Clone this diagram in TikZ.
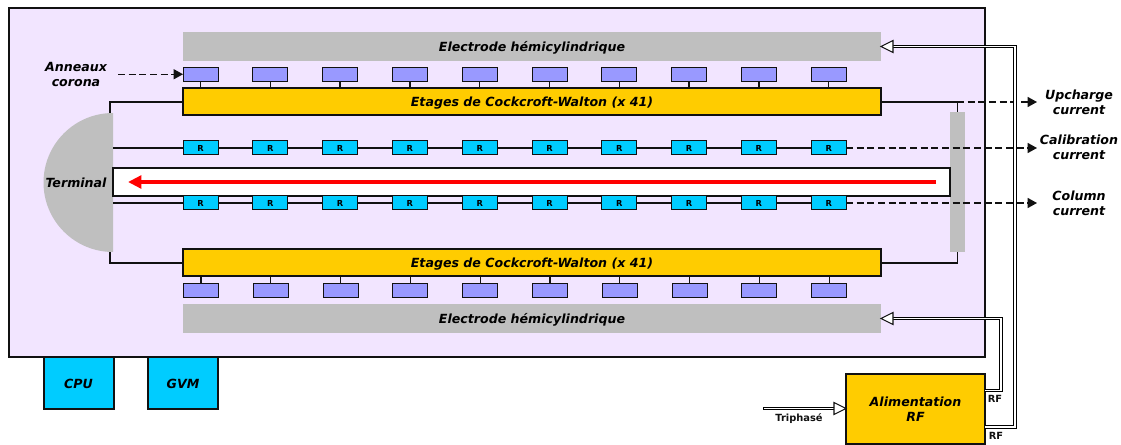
\documentclass[tikz,border=0pt]{standalone}
\usepackage{fontspec}
\setmainfont{DejaVu Sans}
\usetikzlibrary{arrows.meta}
\definecolor{bgpurple}{HTML}{F2E5FF}
\definecolor{ringblue}{HTML}{9999FF}
\definecolor{rcyan}{HTML}{00CCFF}
\definecolor{yell}{HTML}{FFCC00}
\definecolor{gris}{HTML}{BFBFBF}
\definecolor{ink}{HTML}{111111}
\tikzset{
  lab/.style={font=\fontsize{9.45}{11.5}\selectfont\bfseries\itshape,align=center,inner sep=0pt,text=black},
  smalllab/.style={font=\fontsize{7.4}{9}\selectfont\bfseries,inner sep=0pt,text=ink},
  rectbox/.style={inner sep=0pt,outer sep=0pt,rectangle},
  electrode/.style={rectbox,fill=gris,minimum width=523.5pt,minimum height=21.75pt,lab,text height=9pt,text depth=1.5pt},
  cw/.style={rectbox,fill=yell,draw=ink,line width=1.5pt,minimum width=523.5pt,minimum height=20.25pt,lab,text height=9pt,text depth=1.5pt},
  ring/.style={rectbox,fill=ringblue,draw=ink,line width=0.75pt,minimum width=26.25pt,minimum height=10.5pt},
  resist/.style={rectbox,fill=rcyan,draw=ink,line width=0.75pt,minimum width=26.25pt,minimum height=10.5pt,font=\fontsize{6.2}{7}\selectfont\bfseries},
  ctrl/.style={rectbox,fill=rcyan,draw=ink,line width=1.5pt,minimum width=52.5pt,minimum height=39pt,lab,text height=8pt,text depth=0.5pt},
  wire/.style={draw=ink,line width=1pt},
  dashwire/.style={draw=ink,line width=1pt,dash pattern=on 5.2pt off 2.8pt,-{Triangle[length=7pt,width=7.5pt,fill=ink]}},
  rfback/.style={draw=white,line width=1.6pt},
  rfedge/.style={draw=black,line width=0.65pt,line join=miter},
  openhead/.style={draw=ink,fill=white,line width=0.8pt,line join=miter},
}
\begin{document}
\begin{tikzpicture}[x=0.75pt,y=-0.75pt]
\useasboundingbox (0,0) rectangle (1121,445);
\node[rectbox,fill=bgpurple,draw=ink,line width=1pt,minimum width=732pt,minimum height=261.75pt] (frame) at (497,182.5) {};
\node[electrode] (etop) at (532,46.5) {Electrode hémicylindrique};
\node[electrode] (ebot) at (532,318.5) {Electrode hémicylindrique};
\fill[gris] (113,113) arc[start angle=-90,end angle=-270,radius=69.5] -- cycle;
\coordinate (termtop) at (110,113);
\coordinate (termbot) at (110,252);
\coordinate (termup) at (113,148);
\coordinate (termlow) at (113,203);
\node[rectbox,fill=gris,minimum width=11.25pt,minimum height=105pt] (bar) at (957.5,182) {};
\node[cw] (cwtop) at (532,102) {Etages de Cockcroft-Walton (x 41)};
\node[cw] (cwbot) at (532,263) {Etages de Cockcroft-Walton (x 41)};
\foreach \i in {0,...,9}{
  \pgfmathsetmacro{\cx}{200.5+69.8*\i}
  \node[ring] (rt\i) at (\cx,74.25) {};
  \node[ring] (rb\i) at (\cx+0.5,290.25) {};
  \draw[wire] (rt\i.south) -- (rt\i.south |- cwtop.north);
  \draw[wire] (rb\i.north) -- (rb\i.north |- cwbot.south);
}
\coordinate (upend) at (1037,148);
\coordinate (lowend) at (1037,203);
\coordinate (upr) at (846,148);
\coordinate (lowr) at (846,203);
\draw[wire] (termup) -- (upr);
\draw[wire] (termlow) -- (lowr);
\draw[dashwire] (upr) -- (upend);
\draw[dashwire] (lowr) -- (lowend);
\node[rectbox,fill=white,draw=ink,line width=0.9pt,minimum width=627.75pt,minimum height=21pt] (tube) at (531.5,182) {};
\coordinate (redstart) at (936,182);
\coordinate (redend) at (128,182);
\draw[red,line width=3pt,-{Triangle[length=10pt,width=9.5pt]}] (redstart) -- (redend);
\foreach \i in {0,...,9}{
  \pgfmathsetmacro{\cx}{200.5+69.8*\i}
  \node[resist] (ru\i) at (\cx,148) {R};
  \node[resist] (rl\i) at (\cx,203) {R};
}
\draw[wire] (cwtop.west) -| (termtop);
\draw[wire] (cwbot.west) -| (termbot);
\draw[wire] (cwtop.east) -| (bar.north);
\draw[wire] (cwbot.east) -| (bar.south);
\coordinate (upcharge) at (1037,102);
\coordinate (barknee) at (957,102);
\draw[dashwire] (barknee) -- (upcharge);
\node[ctrl] (cpu) at (78.5,383) {CPU};
\node[ctrl] (gvm) at (183,383) {GVM};
\node[rectbox,fill=yell,draw=ink,line width=1.5pt,minimum width=104.25pt,minimum height=52.5pt,lab] (alim) at (915.5,409) {Alimentation\\RF};
\node[lab] (ann) at (76,74.5) {Anneaux\\corona};
\coordinate (annstart) at (118,74.25);
\draw[dashwire] (annstart) -- (rt0.west);
\node[lab] (term) at (76,182.5) {Terminal};
\node[lab] (lu) at (1079,102) {Upcharge\\current};
\node[lab] (lc) at (1079,147.5) {Calibration\\current};
\node[lab] (lr) at (1079,203) {Column\\current};
% RF feed to upper electrode
\draw[rfback] (985,427) -- (1015,427) -- (1015,46.5) -- (893,46.5);
\draw[rfedge] (985,428.2) -- (1016.2,428.2) -- (1016.2,45.3) -- (893,45.3);
\draw[rfedge] (985,425.8) -- (1013.8,425.8) -- (1013.8,47.7) -- (893,47.7);
% RF feed to lower electrode
\draw[rfback] (985,390.5) -- (1001,390.5) -- (1001,318.5) -- (893,318.5);
\draw[rfedge] (985,391.7) -- (1002.2,391.7) -- (1002.2,317.3) -- (893,317.3);
\draw[rfedge] (985,389.3) -- (999.8,389.3) -- (999.8,319.7) -- (893,319.7);
% three-phase input
\draw[rfback] (763,408.5) -- (834,408.5);
\draw[rfedge] (763,407.3) -- (834,407.3);
\draw[rfedge] (763,409.7) -- (834,409.7);
\draw[rfedge] (763,407.3) -- (763,409.7);
\draw[openhead] (893,40.5) -- (881,46.5) -- (893,52.5) -- cycle;
\draw[openhead] (893,312.5) -- (881,318.5) -- (893,324.5) -- cycle;
\draw[openhead] (834,402.5) -- (846,408.5) -- (834,414.5) -- cycle;
\node[smalllab] (rf1) at (995,398.5) {RF};
\node[smalllab] (rf2) at (996,435.5) {RF};
\node[smalllab] (tri) at (799,419) {Triphasé};
\end{tikzpicture}
\end{document}
